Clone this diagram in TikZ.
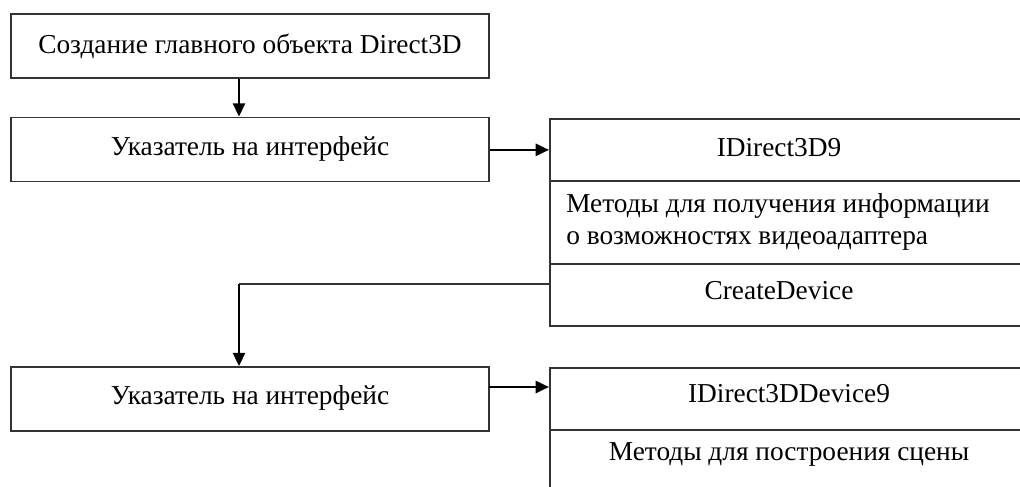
\documentclass[tikz,border=0pt]{standalone}
\usepackage{fontspec}
\setmainfont{Liberation Serif}
\usetikzlibrary{arrows.meta,calc}

\tikzset{
  box/.style={draw=black!80, line width=1.3pt, minimum width=358.5pt, minimum height=48pt, inner sep=0pt},
  sect/.style={draw=black!80, line width=1.3pt, minimum width=363pt, anchor=north west, inner sep=0pt},
  lbl/.style={inner sep=0.75pt, font=\fontsize{20.5}{24}\selectfont},
  link/.style={draw=black!80, line width=1.3pt},
  arrow/.style={line width=2pt, -{Triangle[length=10pt,width=9pt]}}
}

\begin{document}
\begin{tikzpicture}[x=0.75pt,y=0.75pt,yscale=-1,xscale=1]
\useasboundingbox (0,0) rectangle (1020,486);
% left column
\node[box] (b1) at (250,46) {};
\node[box] (b2) at (250,149.5) {};
\node[box] (b3) at (250,399) {};
\draw (250,46) node [lbl] (t1) {Создание главного объекта Direct3D};
\draw (250,149) node [lbl] (t2) {Указатель на интерфейс};
\draw (250,398) node [lbl] (t3) {Указатель на интерфейс};
% right column
\node[sect, minimum height=46.5pt] (r1a) at (549,118) {};
\node[sect, minimum height=62.25pt] (r1b) at (549,180) {};
\node[sect, minimum height=46.5pt] (r1c) at (549,263) {};
\node[sect, minimum height=46.5pt] (r2a) at (549,367) {};
\node[sect, minimum height=60pt] (r2b) at (549,429) {};
\draw (779,148) node [lbl] (h1) {IDirect3D9};
\draw (565,222) node [lbl, anchor=west, align=left] (m1) {Методы для получения информации\\о возможностях видеоадаптера};
\draw (779,291) node [lbl] (cd) {CreateDevice};
\draw (789,394) node [lbl] (h2) {IDirect3DDevice9};
\draw (789,454) node [lbl] (m2) {Методы для построения сцены};
% connectors
\coordinate (cdout) at (549,284);
\coordinate (turn) at (239,284);
\coordinate (out3) at (489,387);
\draw[arrow] ($(b1.south)+(-11,0)$) -- ($(b2.north)+(-11,0)$);
\draw[arrow] (b2.east |- r1a.west) -- (r1a.west);
\draw[link] (cdout) -- (turn);
\draw[arrow] (turn) -- (turn |- b3.north);
\draw[arrow] (out3) -- (out3 -| r2a.west);
\end{tikzpicture}
\end{document}
